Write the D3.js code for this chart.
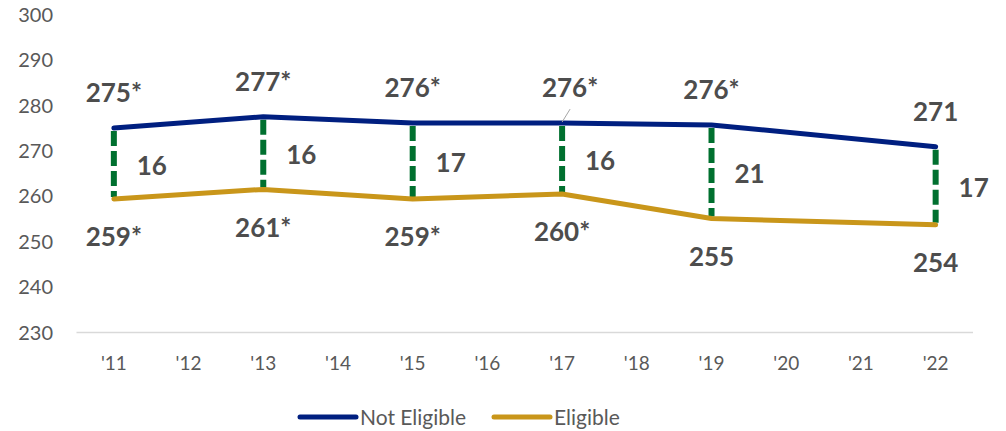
<!DOCTYPE html>
<html>
<head>
<meta charset="utf-8">
<script src="https://cdn.jsdelivr.net/npm/d3@7"></script>
<style>
  body { margin: 0; background: #fff; }
  svg { display: block; font-family: Lato, "Open Sans", sans-serif; }
</style>
</head>
<body>
<svg id="chart" width="1006" height="431"></svg>
<script>
// tick labels / categories
var years = ["'11","'12","'13","'14","'15","'16","'17","'18","'19","'20","'21","'22"];
var yTicks = [230, 240, 250, 260, 270, 280, 290, 300];

// assessed years and scores
var tested = ["'11","'13","'15","'17","'19","'22"];
var notEligible = [275.0, 277.5, 276.1, 276.1, 275.7, 270.9];
var eligible = [259.4, 261.5, 259.4, 260.5, 255.1, 253.7];
var notEligibleLabels = ["275*","277*","276*","276*","276*","271"];
var eligibleLabels = ["259*","261*","259*","260*","255","254"];

var navy = "#001F80", gold = "#C9961A", green = "#00702F", labelCol = "#4D4D4D", axisCol = "#595959";

var svg = d3.select("#chart");

var x = d3.scalePoint()
    .domain(years)
    .range([76.5, 973])
    .padding(0.5);

var y = d3.scaleLinear()
    .domain([230, 300])
    .range([332.5, 14.5]);

// y axis labels
svg.append("g").selectAll("text")
    .data(yTicks)
    .enter().append("text")
    .attr("x", 53)
    .attr("y", d => y(d))
    .attr("dy", "0.36em")
    .attr("text-anchor", "end")
    .attr("fill", axisCol)
    .style("font-size", "20px")
    .text(d => d);

// baseline
svg.append("line")
    .attr("x1", 76.5).attr("x2", 973)
    .attr("y1", y(230)).attr("y2", y(230))
    .attr("stroke", "#D9D9D9")
    .attr("stroke-width", 1.5);

// x labels
svg.append("g").selectAll("text")
    .data(years)
    .enter().append("text")
    .attr("x", d => x(d))
    .attr("y", 363)
    .attr("dy", "0.36em")
    .attr("text-anchor", "middle")
    .attr("fill", axisCol)
    .style("font-size", "19px")
    .text(d => d);

var rows = tested.map((t, i) => ({yr: t, a: notEligible[i], b: eligible[i], la: notEligibleLabels[i], lb: eligibleLabels[i]}));

// gap markers
svg.append("g").selectAll("line")
    .data(rows)
    .enter().append("line")
    .attr("x1", d => x(d.yr)).attr("x2", d => x(d.yr))
    .attr("y1", d => y(d.a) + 3).attr("y2", d => y(d.b) - 2)
    .attr("stroke", green)
    .attr("stroke-width", 6)
    .attr("stroke-dasharray", "15,5");

var line = d3.line()
    .x(d => x(d.yr))
    .y(d => y(d.v));

function drawSeries(vals, col) {
    svg.append("path")
        .datum(tested.map((t, i) => ({yr: t, v: vals[i]})))
        .attr("d", line)
        .attr("fill", "none")
        .attr("stroke", col)
        .attr("stroke-width", 5)
        .attr("stroke-linejoin", "round")
        .attr("stroke-linecap", "round");
}
drawSeries(notEligible, navy);
drawSeries(eligible, gold);

// leader line for '17
var r17 = rows[3];
svg.append("line")
    .attr("x1", x(r17.yr)).attr("y1", y(r17.a) - 1)
    .attr("x2", x(r17.yr) + 8).attr("y2", y(r17.a) - 14)
    .attr("stroke", "#A6A6A6")
    .attr("stroke-width", 1);

var bold = svg.append("g")
    .attr("fill", labelCol)
    .attr("font-weight", "bold")
    .style("font-size", "26px")
    .attr("text-anchor", "middle");

bold.selectAll(".top")
    .data(rows)
    .enter().append("text")
    .attr("x", d => x(d.yr) + (d.yr === "'17" ? 8 : 0))
    .attr("y", d => y(d.a) - 35)
    .attr("dy", "0.36em")
    .text(d => d.la);

bold.selectAll(".bot")
    .data(rows)
    .enter().append("text")
    .attr("x", d => x(d.yr))
    .attr("y", d => y(d.b) + 38)
    .attr("dy", "0.36em")
    .text(d => d.lb);

bold.selectAll(".gap")
    .data(rows)
    .enter().append("text")
    .attr("x", d => x(d.yr) + 38)
    .attr("y", d => (y(d.a) + y(d.b)) / 2 + 2)
    .attr("dy", "0.36em")
    .text(d => Math.round(d.a - d.b));

// legend
var legend = [{name: "Not Eligible", col: navy, x: 300}, {name: "Eligible", col: gold, x: 494}];
var lg = svg.append("g").selectAll("g")
    .data(legend)
    .enter().append("g");
lg.append("line")
    .attr("x1", d => d.x).attr("x2", d => d.x + 56)
    .attr("y1", 417).attr("y2", 417)
    .attr("stroke", d => d.col)
    .attr("stroke-width", 5)
    .attr("stroke-linecap", "round");
lg.append("text")
    .attr("x", d => d.x + 60)
    .attr("y", 417)
    .attr("dy", "0.36em")
    .attr("fill", axisCol)
    .style("font-size", "21px")
    .text(d => d.name);
</script>
</body>
</html>
